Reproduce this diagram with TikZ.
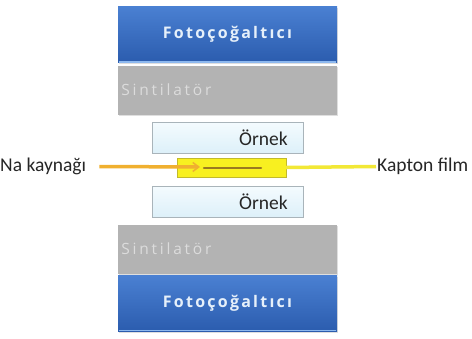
\documentclass[tikz,border=0pt]{standalone}
\usepackage{fontspec}
\setmainfont{Carlito}
\newfontfamily\titlefont[LetterSpace=14]{Open Sans Bold}
\newfontfamily\sintfont[LetterSpace=18]{Open Sans}
\usetikzlibrary{shadows,arrows.meta}
\definecolor{pmtTop}{HTML}{4A80D2}
\definecolor{pmtBot}{HTML}{2B5CAE}
\definecolor{pmtEdge}{HTML}{8DB8EE}
\definecolor{sciGrey}{HTML}{B3B3B3}
\definecolor{sciText}{HTML}{DCDCDC}
\definecolor{ornTop}{HTML}{F4FBFE}
\definecolor{ornBot}{HTML}{DDF0F9}
\definecolor{ornEdge}{HTML}{A9B4BA}
\definecolor{kapYel}{HTML}{F2E836}
\definecolor{srcYel}{HTML}{F8F020}
\definecolor{naOrange}{HTML}{F0B030}
\definecolor{srcDark}{HTML}{9A7A20}
\definecolor{titleText}{HTML}{E6F0FA}
\tikzset{
  pmtbox/.style={draw=none, top color=pmtTop, bottom color=pmtBot, minimum width=219pt, minimum height=56pt, inner sep=0pt, drop shadow={opacity=0.25, shadow xshift=1pt, shadow yshift=-1pt}},
  scibox/.style={draw=none, fill=sciGrey, minimum width=219pt, minimum height=49pt, inner sep=0pt, drop shadow={opacity=0.25, shadow xshift=1pt, shadow yshift=-1pt}},
  ornbox/.style={draw=ornEdge, line width=0.6pt, top color=ornTop, bottom color=ornBot, minimum width=151pt, minimum height=31pt, inner sep=0pt, drop shadow={opacity=0.2, shadow xshift=1pt, shadow yshift=-1pt}},
  srcbox/.style={draw=kapYel!80!black, line width=0.4pt, fill=srcYel, minimum width=109pt, minimum height=19pt, inner sep=0pt},
  titletext/.style={text=titleText, font=\titlefont\fontsize{16}{18}\selectfont},
  scitext/.style={text=sciText, font=\sintfont\fontsize{15.5}{18}\selectfont, anchor=west},
  lbltext/.style={text=black!85, font=\fontsize{19.5}{22}\selectfont},
  kapline/.style={draw=kapYel, line width=3.5pt},
  naline/.style={draw=naOrange, line width=3.5pt},
}
\begin{document}
\begin{tikzpicture}[x=1pt,y=1pt]
\useasboundingbox (0,0) rectangle (472,-338);
% top photomultiplier and scintillator
\node[pmtbox] (pmtA) at (227.5,-34.5) {};
\draw[pmtEdge, line width=1.2pt] ([xshift=1pt,yshift=0.8pt]pmtA.south west) -- ([xshift=-1pt,yshift=0.8pt]pmtA.south east);
\node[titletext] (pmtAtxt) at (pmtA.center) {Fotoçoğaltıcı};
\node[scibox] (sciA) at (227.5,-90) {};
\node[scitext] (sciAtxt) at ([xshift=0pt]sciA.west) {Sintilatör};
% samples
\node[ornbox] (ornA) at (227.5,-137.5) {};
\node[lbltext, anchor=east] (ornAtxt) at ([xshift=-12pt]ornA.east) {Örnek};
\node[ornbox] (ornB) at (227.5,-201.5) {};
\node[lbltext, anchor=east] (ornBtxt) at ([xshift=-12pt]ornB.east) {Örnek};
% source and kapton
\node[lbltext, anchor=west, inner sep=0pt] (na) at (0,-166.5) {Na kaynağı};
\node[lbltext, anchor=west, inner sep=1pt] (kap) at (376,-166.5) {Kapton film};
\node[srcbox] (src) at (231.5,-167.5) {};
\draw[kapline] (src.east) -- (kap.west);
\coordinate (srcIn) at (200,-167);
\draw[naline, -{Straight Barb[length=6pt,width=9pt,line width=1.5pt]}] ([xshift=13pt]na.east) -- (srcIn);
\draw[srcDark, line width=2.5pt, line cap=round] (204,-168) -- (261,-168);
% bottom scintillator and photomultiplier
\node[scibox] (sciB) at (227.5,-249) {};
\node[scitext] (sciBtxt) at ([xshift=0pt]sciB.west) {Sintilatör};
\node[pmtbox] (pmtB) at (227.5,-303.5) {};
\draw[pmtEdge, line width=1.5pt] ([xshift=1pt,yshift=1pt]pmtB.south west) -- ([xshift=-1pt,yshift=1pt]pmtB.south east);
\node[titletext] (pmtBtxt) at (pmtB.center) {Fotoçoğaltıcı};
\end{tikzpicture}
\end{document}
